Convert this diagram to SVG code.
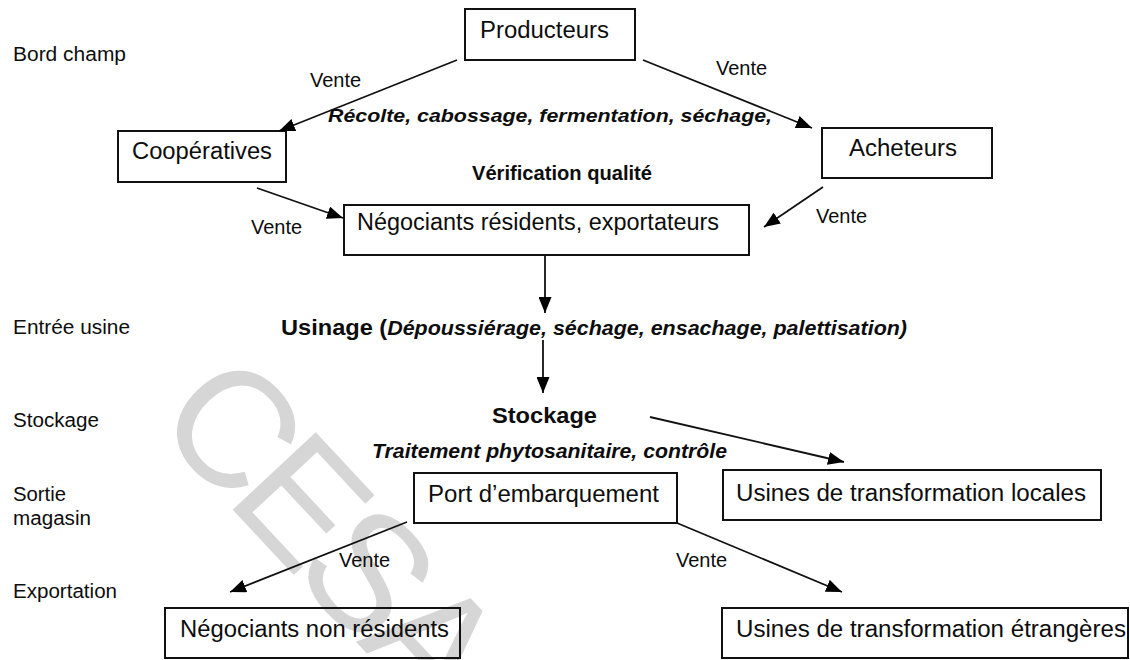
<svg xmlns="http://www.w3.org/2000/svg" width="1130" height="660" viewBox="0 0 1130 660">
<defs>
<marker id="arr" markerUnits="userSpaceOnUse" markerWidth="17" markerHeight="13" refX="16" refY="6.5" orient="auto">
<path d="M0,0 L16,6.5 L0,13 z" fill="#000"/>
</marker>
<style>
text{font-family:"Liberation Sans",Arial,sans-serif;fill:#0d0d0d}
.box{fill:none;stroke:#111;stroke-width:2}
.lbl{font-size:23px}
.side{font-size:20px}
.v{font-size:20px}
.b{font-weight:bold}
.bi{font-weight:bold;font-style:italic}
.wm{font-size:165px;fill:#d6d6d6;letter-spacing:-13px}
#connectors line{stroke:#111;stroke-width:1.8;marker-end:url(#arr)}
</style>
</defs>
<rect width="1130" height="660" fill="#fff"/>
<text class="wm" transform="translate(151,422) rotate(47)">CESAG</text>

<g id="side-labels">
<text class="side" x="13" y="61" textLength="113" lengthAdjust="spacingAndGlyphs">Bord champ</text>
<text class="side" x="13" y="334" textLength="117" lengthAdjust="spacingAndGlyphs">Entrée usine</text>
<text class="side" x="13" y="427" textLength="86" lengthAdjust="spacingAndGlyphs">Stockage</text>
<text class="side" x="13" y="501" textLength="53" lengthAdjust="spacingAndGlyphs">Sortie</text>
<text class="side" x="13" y="525" textLength="78" lengthAdjust="spacingAndGlyphs">magasin</text>
<text class="side" x="13" y="598" textLength="104" lengthAdjust="spacingAndGlyphs">Exportation</text>
</g>

<g id="producteurs">
<rect class="box" x="465" y="9" width="170" height="51"/>
<text class="lbl" x="480" y="38" textLength="129" lengthAdjust="spacingAndGlyphs">Producteurs</text>
</g>
<g id="cooperatives">
<rect class="box" x="118" y="131" width="168" height="51"/>
<text class="lbl" x="132" y="159" textLength="140" lengthAdjust="spacingAndGlyphs">Coopératives</text>
</g>
<g id="acheteurs">
<rect class="box" x="822" y="128" width="170" height="50"/>
<text class="lbl" x="849" y="156" textLength="108" lengthAdjust="spacingAndGlyphs">Acheteurs</text>
</g>
<g id="negociants-residents">
<rect class="box" x="344" y="205" width="405" height="50"/>
<text class="lbl" x="357" y="230" textLength="362" lengthAdjust="spacingAndGlyphs">Négociants résidents, exportateurs</text>
</g>
<g id="recolte">
<text class="bi" font-size="19" x="328" y="122" textLength="444" lengthAdjust="spacingAndGlyphs">Récolte, cabossage, fermentation, séchage,</text>
</g>
<g id="verification">
<text class="b" font-size="21" x="472" y="180" textLength="180" lengthAdjust="spacingAndGlyphs">Vérification qualité</text>
</g>
<g id="usinage">
<text x="281" y="335" textLength="626" lengthAdjust="spacingAndGlyphs"><tspan class="b" font-size="22">Usinage (</tspan><tspan class="bi" font-size="20">Dépoussiérage, séchage, ensachage, palettisation)</tspan></text>
</g>
<g id="stockage">
<text class="b" font-size="22" x="492" y="423" textLength="105" lengthAdjust="spacingAndGlyphs">Stockage</text>
<text class="bi" font-size="19.5" x="372" y="458" textLength="355" lengthAdjust="spacingAndGlyphs">Traitement phytosanitaire, contrôle</text>
</g>
<g id="port">
<rect class="box" x="414" y="473" width="263" height="50"/>
<text class="lbl" x="428" y="502" textLength="231" lengthAdjust="spacingAndGlyphs">Port d’embarquement</text>
</g>
<g id="usines-locales">
<rect class="box" x="723" y="470" width="378" height="50"/>
<text class="lbl" x="736" y="501" textLength="350" lengthAdjust="spacingAndGlyphs">Usines de transformation locales</text>
</g>
<g id="negociants-non-residents">
<rect class="box" x="165" y="608" width="295" height="50"/>
<text class="lbl" x="180" y="637" textLength="269" lengthAdjust="spacingAndGlyphs">Négociants non résidents</text>
</g>
<g id="usines-etrangeres">
<rect class="box" x="722" y="608" width="406" height="50"/>
<text class="lbl" x="736" y="637" textLength="390" lengthAdjust="spacingAndGlyphs">Usines de transformation étrangères</text>
</g>

<g id="connectors">
<line x1="457" y1="60" x2="279" y2="131"/>
<line x1="643" y1="60" x2="812" y2="128"/>
<line x1="257" y1="188" x2="343" y2="218"/>
<line x1="823" y1="187" x2="764" y2="227"/>
<line x1="545" y1="255" x2="545" y2="313"/>
<line x1="543" y1="340" x2="543" y2="393"/>
<line x1="650" y1="417" x2="844" y2="462"/>
<line x1="407" y1="522" x2="230" y2="592"/>
<line x1="677" y1="523" x2="842" y2="592"/>
<text class="v" x="310" y="87">Vente</text>
<text class="v" x="716" y="75">Vente</text>
<text class="v" x="251" y="234">Vente</text>
<text class="v" x="816" y="223">Vente</text>
<text class="v" x="339" y="567">Vente</text>
<text class="v" x="676" y="567">Vente</text>
</g>
</svg>
